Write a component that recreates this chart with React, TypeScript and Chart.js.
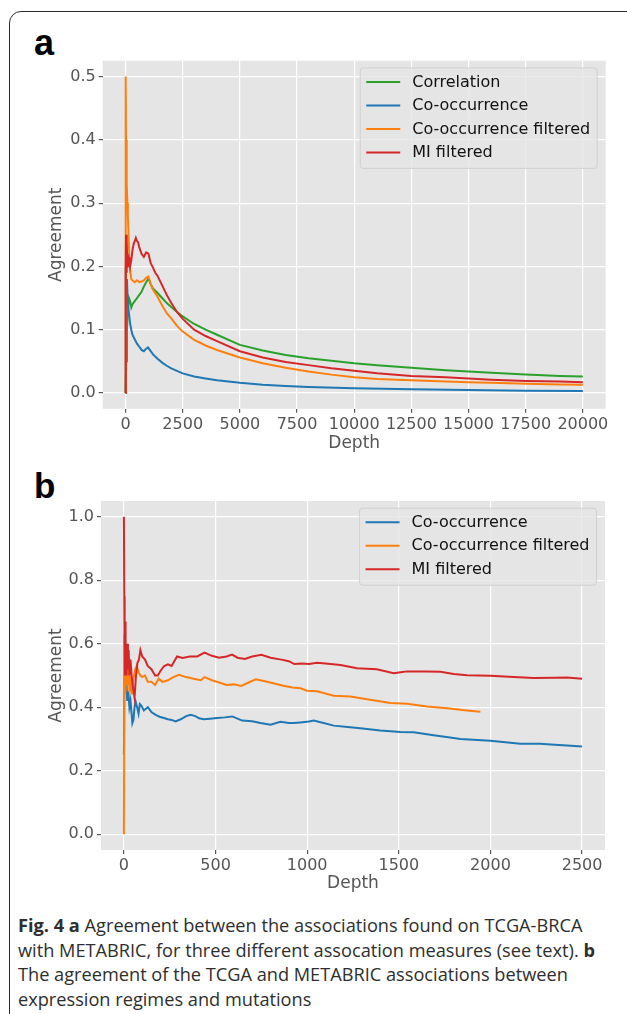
import React, { useEffect, useRef } from "react";
import { Chart, registerables } from "chart.js";

Chart.register(...registerables);

// ---------- Panel a data: [depth, agreement] ----------
const A_X_TICKS = [0, 2500, 5000, 7500, 10000, 12500, 15000, 17500, 20000];
const A_Y_TICKS = [0.0, 0.1, 0.2, 0.3, 0.4, 0.5];

const A_CORRELATION: [number, number][] = [
  [0, 0.0], [30, 0.05], [60, 0.1], [100, 0.13], [150, 0.15], [200, 0.145], [250, 0.135],
  [300, 0.14], [400, 0.145], [500, 0.15], [600, 0.155], [700, 0.16], [800, 0.168],
  [900, 0.175], [1000, 0.181], [1100, 0.172], [1200, 0.165], [1400, 0.158], [1600, 0.15],
  [1800, 0.142], [2000, 0.136], [2250, 0.128], [2500, 0.121], [3000, 0.109], [3500, 0.1],
  [4000, 0.092], [5000, 0.076], [6000, 0.067], [7000, 0.06], [8000, 0.055], [9000, 0.051],
  [10000, 0.047], [11000, 0.044], [12500, 0.04], [14000, 0.036], [15000, 0.034],
  [16000, 0.032], [17500, 0.029], [19000, 0.027], [20000, 0.026],
];

const A_COOCCURRENCE: [number, number][] = [
  [0, 0.0], [10, 0.2], [30, 0.15], [60, 0.18], [100, 0.14], [150, 0.125], [200, 0.11],
  [250, 0.1], [300, 0.092], [400, 0.085], [500, 0.078], [600, 0.073], [700, 0.068],
  [800, 0.066], [900, 0.07], [980, 0.072], [1100, 0.066], [1200, 0.061], [1400, 0.054],
  [1600, 0.048], [1800, 0.043], [2000, 0.039], [2250, 0.035], [2500, 0.031], [3000, 0.026],
  [3500, 0.023], [4000, 0.02], [5000, 0.016], [6000, 0.013], [7000, 0.011], [8000, 0.0095],
  [10000, 0.0075], [12500, 0.006], [15000, 0.0047], [17500, 0.0037], [20000, 0.003],
];

const A_COOCCURRENCE_FILTERED: [number, number][] = [
  [0, 0.0], [2, 0.5], [10, 0.5], [20, 0.4], [40, 0.37], [60, 0.33], [80, 0.3], [100, 0.28],
  [130, 0.25], [160, 0.22], [200, 0.195], [250, 0.18], [300, 0.178], [400, 0.175],
  [500, 0.178], [600, 0.175], [700, 0.176], [800, 0.178], [900, 0.182], [1000, 0.184],
  [1100, 0.172], [1200, 0.163], [1400, 0.152], [1600, 0.138], [1800, 0.126], [2000, 0.118],
  [2250, 0.106], [2500, 0.097], [3000, 0.084], [3500, 0.075], [4000, 0.068], [5000, 0.056],
  [6000, 0.047], [7000, 0.04], [8000, 0.034], [9000, 0.029], [10000, 0.025], [11000, 0.022],
  [12500, 0.02], [14000, 0.018], [15000, 0.017], [16000, 0.016], [17500, 0.0147],
  [19000, 0.0135], [20000, 0.013],
];

const A_MI_FILTERED: [number, number][] = [
  [0, 0.0], [5, 0.1], [10, 0.2], [20, 0.25], [40, 0.19], [60, 0.24], [80, 0.2], [100, 0.22],
  [130, 0.2], [160, 0.215], [200, 0.2], [250, 0.21], [300, 0.225], [350, 0.235], [400, 0.24],
  [450, 0.245], [500, 0.24], [550, 0.238], [600, 0.23], [700, 0.22], [800, 0.215],
  [900, 0.222], [1000, 0.22], [1100, 0.205], [1200, 0.198], [1300, 0.19], [1400, 0.185],
  [1600, 0.17], [1800, 0.155], [2000, 0.142], [2250, 0.128], [2500, 0.117], [3000, 0.1],
  [3500, 0.09], [4000, 0.082], [5000, 0.066], [6000, 0.056], [7000, 0.049], [8000, 0.044],
  [9000, 0.039], [10000, 0.035], [11000, 0.031], [12500, 0.027], [14000, 0.025],
  [15000, 0.023], [16000, 0.021], [17500, 0.019], [19000, 0.018], [20000, 0.017],
];

// ---------- Panel b data: [depth, agreement] ----------
const B_X_TICKS = [0, 500, 1000, 1500, 2000, 2500];
const B_Y_TICKS = [0.0, 0.2, 0.4, 0.6, 0.8, 1.0];

const B_COOCCURRENCE: [number, number][] = [
  [0, 0.25], [3, 0.5], [6, 0.45], [10, 0.5], [14, 0.48], [18, 0.42], [24, 0.45], [30, 0.4],
  [36, 0.42], [42, 0.38], [46, 0.35], [52, 0.36], [58, 0.4], [64, 0.418], [72, 0.4],
  [80, 0.38], [87, 0.41], [95, 0.405], [109, 0.39], [120, 0.395], [131, 0.4], [150, 0.385],
  [173, 0.376], [195, 0.37], [218, 0.366], [240, 0.362], [260, 0.36], [282, 0.355],
  [310, 0.362], [340, 0.372], [364, 0.376], [390, 0.372], [410, 0.365], [436, 0.362],
  [470, 0.364], [509, 0.366], [550, 0.368], [591, 0.371], [620, 0.364], [645, 0.358],
  [700, 0.356], [745, 0.35], [800, 0.345], [854, 0.354], [900, 0.35], [927, 0.35],
  [963, 0.352], [1009, 0.355], [1036, 0.358], [1090, 0.35], [1145, 0.342], [1220, 0.338],
  [1290, 0.334], [1399, 0.327], [1509, 0.322], [1581, 0.321], [1690, 0.312], [1760, 0.306],
  [1836, 0.3], [2000, 0.294], [2163, 0.285], [2272, 0.285], [2350, 0.282], [2418, 0.279],
  [2500, 0.276],
];

const B_COOCCURRENCE_FILTERED: [number, number][] = [
  [0, 0.0], [3, 0.63], [6, 0.45], [9, 0.58], [12, 0.5], [16, 0.6], [20, 0.47], [25, 0.55],
  [30, 0.45], [36, 0.5], [42, 0.44], [48, 0.47], [55, 0.5], [62, 0.52], [70, 0.53],
  [80, 0.51], [90, 0.5], [100, 0.495], [115, 0.5], [130, 0.48], [150, 0.48], [170, 0.47],
  [190, 0.49], [210, 0.48], [240, 0.485], [270, 0.495], [300, 0.502], [340, 0.495],
  [380, 0.49], [420, 0.485], [440, 0.495], [480, 0.485], [520, 0.478], [560, 0.47],
  [600, 0.472], [640, 0.467], [680, 0.478], [720, 0.488], [770, 0.482], [820, 0.475],
  [870, 0.468], [920, 0.462], [963, 0.46], [1000, 0.452], [1054, 0.45], [1145, 0.436],
  [1236, 0.434], [1327, 0.425], [1454, 0.413], [1545, 0.411], [1654, 0.402], [1763, 0.397],
  [1872, 0.39], [1945, 0.386],
];

const B_MI_FILTERED: [number, number][] = [
  [0, 1.0], [2, 0.75], [4, 0.5], [6, 0.67], [8, 0.55], [10, 0.6], [14, 0.5], [18, 0.6],
  [22, 0.52], [26, 0.58], [30, 0.5], [36, 0.55], [42, 0.5], [50, 0.46], [58, 0.43],
  [66, 0.5], [74, 0.54], [82, 0.55], [90, 0.58], [100, 0.56], [115, 0.55], [130, 0.53],
  [150, 0.52], [170, 0.5], [185, 0.5], [200, 0.515], [220, 0.53], [240, 0.535], [260, 0.53],
  [290, 0.56], [320, 0.555], [360, 0.56], [400, 0.56], [440, 0.572], [480, 0.562],
  [520, 0.556], [560, 0.56], [590, 0.566], [620, 0.556], [660, 0.552], [700, 0.56],
  [750, 0.565], [800, 0.556], [860, 0.55], [900, 0.545], [930, 0.536], [970, 0.538],
  [1010, 0.536], [1054, 0.54], [1100, 0.538], [1182, 0.533], [1272, 0.523], [1380, 0.52],
  [1472, 0.507], [1510, 0.51], [1545, 0.513], [1650, 0.513], [1727, 0.512], [1800, 0.505],
  [1872, 0.501], [2000, 0.499], [2127, 0.495], [2236, 0.492], [2350, 0.493], [2418, 0.494],
  [2500, 0.49],
];

const BLUE = "#1f77b4";
const ORANGE = "#ff7f0e";
const GREEN = "#2ca02c";
const RED = "#d62728";

const FONT = "'DejaVu Sans', sans-serif";

type Series = { label: string; color: string; data: [number, number][]; order: number };

const bgPlugin = {
  id: "ggbg",
  beforeDraw(chart: any) {
    const { ctx, chartArea } = chart;
    ctx.save();
    ctx.fillStyle = "#E5E5E5";
    ctx.fillRect(chartArea.left, chartArea.top, chartArea.right - chartArea.left, chartArea.bottom - chartArea.top);
    ctx.restore();
  },
};

function makeLegendPlugin(items: { label: string; color: string }[]) {
  return {
    id: "insideLegend",
    afterDraw(chart: any) {
      const { ctx, chartArea } = chart;
      ctx.save();
      ctx.font = `16px ${FONT}`;
      let maxW = 0;
      items.forEach((it) => (maxW = Math.max(maxW, ctx.measureText(it.label).width)));
      const rowH = 23.5;
      const boxW = 6 + 34 + 12 + maxW + 7;
      const boxH = 14 + (items.length - 1) * rowH + 16;
      const right = chartArea.right - 8.5;
      const left = right - boxW;
      const top = chartArea.top + 7.2;
      const r = 3;
      ctx.beginPath();
      ctx.moveTo(left + r, top);
      ctx.lineTo(left + boxW - r, top);
      ctx.arcTo(left + boxW, top, left + boxW, top + r, r);
      ctx.lineTo(left + boxW, top + boxH - r);
      ctx.arcTo(left + boxW, top + boxH, left + boxW - r, top + boxH, r);
      ctx.lineTo(left + r, top + boxH);
      ctx.arcTo(left, top + boxH, left, top + boxH - r, r);
      ctx.lineTo(left, top + r);
      ctx.arcTo(left, top, left + r, top, r);
      ctx.closePath();
      ctx.fillStyle = "rgba(229,229,229,0.8)";
      ctx.fill();
      ctx.strokeStyle = "rgba(204,204,204,0.8)";
      ctx.lineWidth = 1;
      ctx.stroke();
      items.forEach((it, i) => {
        const cy = top + 14 + i * rowH;
        ctx.strokeStyle = it.color;
        ctx.lineWidth = 2;
        ctx.beginPath();
        ctx.moveTo(left + 6, cy);
        ctx.lineTo(left + 40, cy);
        ctx.stroke();
        ctx.fillStyle = "#111";
        ctx.textBaseline = "middle";
        ctx.textAlign = "left";
        ctx.fillText(it.label, left + 52, cy + 0.5);
      });
      ctx.restore();
    },
  };
}

type PanelProps = {
  series: Series[];
  xTicks: number[];
  yTicks: number[];
  xMin: number;
  xMax: number;
  yMin: number;
  yMax: number;
  width: number;
  height: number;
  padTop: number;
  padRight: number;
  yAxisWidth: number;
  xAxisHeight: number;
  top: number;
};

function Panel(p: PanelProps) {
  const ref = useRef<HTMLCanvasElement | null>(null);
  useEffect(() => {
    if (!ref.current) return;
    const chart = new Chart(ref.current, {
      type: "line",
      data: {
        datasets: p.series.map((s) => ({
          label: s.label,
          data: s.data.map(([x, y]) => ({ x, y })),
          borderColor: s.color,
          backgroundColor: s.color,
          borderWidth: 2,
          pointRadius: 0,
          tension: 0,
          fill: false,
          order: s.order,
        })),
      },
      options: {
        animation: false,
        responsive: false,
        devicePixelRatio: 1,
        layout: { padding: { top: p.padTop, right: p.padRight, left: 0, bottom: 0 } },
        plugins: { legend: { display: false }, tooltip: { enabled: false } },
        scales: {
          x: {
            type: "linear",
            min: p.xMin,
            max: p.xMax,
            afterBuildTicks: (scale: any) => {
              scale.ticks = p.xTicks.map((v) => ({ value: v }));
            },
            afterFit: (scale: any) => {
              scale.height = p.xAxisHeight;
            },
            ticks: {
              autoSkip: false,
              maxRotation: 0,
              padding: 2,
              color: "#555",
              font: { family: FONT, size: 16 },
              callback: (v: any) => String(v),
            },
            grid: { color: "#ffffff", lineWidth: 1.2, tickColor: "#555", tickLength: 4, drawTicks: true },
            border: { display: false },
            title: {
              display: true,
              text: "Depth",
              color: "#555",
              font: { family: FONT, size: 17 },
              padding: { top: 0, bottom: 6.5 },
            },
          },
          y: {
            type: "linear",
            min: p.yMin,
            max: p.yMax,
            afterBuildTicks: (scale: any) => {
              scale.ticks = p.yTicks.map((v) => ({ value: v }));
            },
            afterFit: (scale: any) => {
              scale.width = p.yAxisWidth;
            },
            ticks: {
              autoSkip: false,
              padding: 3,
              color: "#555",
              font: { family: FONT, size: 16 },
              callback: (v: any) => Number(v).toFixed(1),
            },
            grid: { color: "#ffffff", lineWidth: 1.2, tickColor: "#555", tickLength: 4, drawTicks: true },
            border: { display: false },
            title: {
              display: true,
              text: "Agreement",
              color: "#555",
              font: { family: FONT, size: 17 },
              padding: { top: 46.8, bottom: 0 },
            },
          },
        },
      },
      plugins: [bgPlugin, makeLegendPlugin(p.series.map((s) => ({ label: s.label, color: s.color })))],
    } as any);
    return () => chart.destroy();
  }, []);
  return (
    <canvas
      ref={ref}
      width={p.width}
      height={p.height}
      style={{ position: "absolute", left: 0, top: p.top, width: p.width, height: p.height, display: "block" }}
    />
  );
}

const SERIES_A: Series[] = [
  { label: "Correlation", color: GREEN, data: A_CORRELATION, order: 3 },
  { label: "Co-occurrence", color: BLUE, data: A_COOCCURRENCE, order: 2 },
  { label: "Co-occurrence filtered", color: ORANGE, data: A_COOCCURRENCE_FILTERED, order: 1 },
  { label: "MI filtered", color: RED, data: A_MI_FILTERED, order: 0 },
];

const SERIES_B: Series[] = [
  { label: "Co-occurrence", color: BLUE, data: B_COOCCURRENCE, order: 2 },
  { label: "Co-occurrence filtered", color: ORANGE, data: B_COOCCURRENCE_FILTERED, order: 1 },
  { label: "MI filtered", color: RED, data: B_MI_FILTERED, order: 0 },
];

const CAPTION_STYLE: React.CSSProperties = {
  position: "absolute",
  left: 18,
  whiteSpace: "nowrap",
  fontFamily: "'Open Sans', sans-serif",
  fontSize: 18.2,
  lineHeight: "24.5px",
  color: "#2e2e2e",
};

export default function App() {
  return (
    <div
      style={{
        position: "absolute",
        left: 0,
        top: 0,
        width: 627,
        height: 1014,
        overflow: "hidden",
        background: "#ffffff",
      }}
    >
      <div
        style={{
          position: "absolute",
          left: 9,
          top: 11,
          width: 660,
          height: 1060,
          border: "1.5px solid #2b2b2b",
          borderRadius: 12,
          boxSizing: "border-box",
        }}
      />
      <div
        style={{
          position: "absolute",
          left: 34,
          top: 25,
          fontFamily: "'Liberation Sans', Arial, sans-serif",
          fontWeight: "bold",
          fontSize: 36,
          lineHeight: "36px",
          color: "#000",
        }}
      >
        a
      </div>
      <Panel
        series={SERIES_A}
        xTicks={A_X_TICKS}
        yTicks={A_Y_TICKS}
        xMin={-1000}
        xMax={21000}
        yMin={-0.025}
        yMax={0.525}
        width={627}
        height={460}
        top={0}
        padTop={60.7}
        padRight={21.3}
        yAxisWidth={102.7}
        xAxisHeight={51.2}
      />
      <div
        style={{
          position: "absolute",
          left: 34,
          top: 468,
          fontFamily: "'Liberation Sans', Arial, sans-serif",
          fontWeight: "bold",
          fontSize: 35,
          lineHeight: "35px",
          color: "#000",
        }}
      >
        b
      </div>
      <Panel
        series={SERIES_B}
        xTicks={B_X_TICKS}
        yTicks={B_Y_TICKS}
        xMin={-125}
        xMax={2625}
        yMin={-0.05}
        yMax={1.05}
        width={627}
        height={440}
        top={460}
        padTop={41}
        padRight={22}
        yAxisWidth={101}
        xAxisHeight={50}
      />
      <div style={{ ...CAPTION_STYLE, top: 913 }}>
        <b>Fig. 4</b> <b>a</b> Agreement between the associations found on TCGA-BRCA
      </div>
      <div style={{ ...CAPTION_STYLE, top: 937.5 }}>
        with METABRIC, for three different assocation measures (see text). <b>b</b>
      </div>
      <div style={{ ...CAPTION_STYLE, top: 962 }}>
        The agreement of the TCGA and METABRIC associations between
      </div>
      <div style={{ ...CAPTION_STYLE, top: 986.5 }}>expression regimes and mutations</div>
    </div>
  );
}
